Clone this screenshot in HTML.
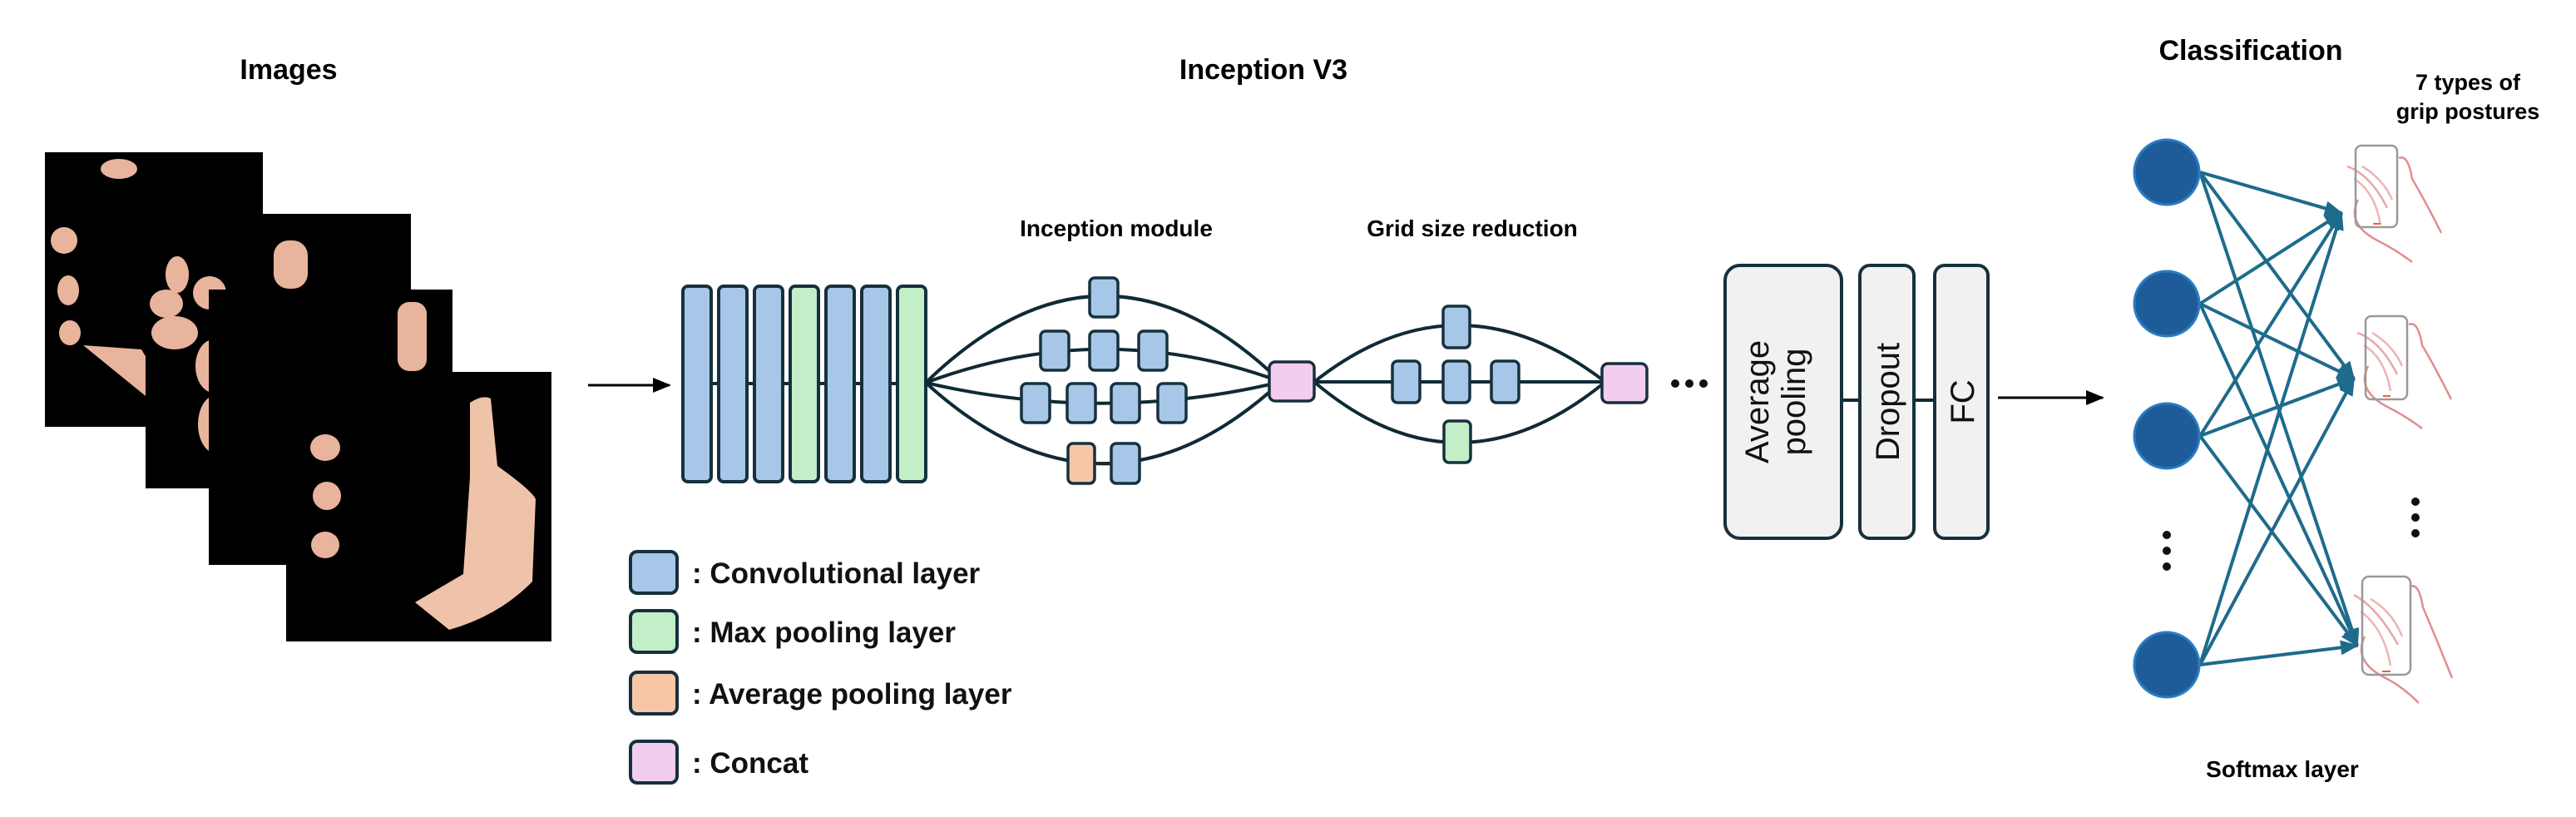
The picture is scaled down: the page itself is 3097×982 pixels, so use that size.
<!DOCTYPE html>
<html><head><meta charset="utf-8"><style>
html,body{margin:0;padding:0;background:#fff;}
svg{display:block;}
text{font-family:"Liberation Sans",sans-serif;}
</style></head><body>
<svg width="3097" height="982" viewBox="0 0 3097 982" xmlns="http://www.w3.org/2000/svg">
<defs>
<marker id="bh" markerWidth="22" markerHeight="18" refX="20" refY="9" orient="auto" markerUnits="userSpaceOnUse">
<path d="M0,0 L22,9 L0,18 z" fill="#000"/></marker>
<marker id="th" markerWidth="22" markerHeight="18" refX="20" refY="9" orient="auto" markerUnits="userSpaceOnUse">
<path d="M0,0 L22,9 L0,18 z" fill="#1e6b8c"/></marker>
</defs>

<text x="347" y="95" font-size="34" font-weight="bold" text-anchor="middle">Images</text>
<text x="1519" y="95" font-size="34" font-weight="bold" text-anchor="middle">Inception V3</text>
<text x="2706" y="72" font-size="34" font-weight="bold" text-anchor="middle">Classification</text>
<text x="2967" y="108" font-size="27" font-weight="bold" text-anchor="middle">7 types of</text>
<text x="2967" y="143" font-size="27" font-weight="bold" text-anchor="middle">grip postures</text>
<text x="1342" y="284" font-size="28" font-weight="bold" text-anchor="middle">Inception module</text>
<text x="1770" y="284" font-size="28" font-weight="bold" text-anchor="middle">Grid size reduction</text>
<text x="2744" y="934" font-size="28" font-weight="bold" text-anchor="middle">Softmax layer</text>

<g fill="#e8b49c">
<rect x="54" y="183" width="262" height="330" fill="#000"/>
<ellipse cx="143" cy="203" rx="22" ry="12"/>
<ellipse cx="77" cy="289" rx="16" ry="16"/>
<ellipse cx="82" cy="349" rx="13" ry="18"/>
<ellipse cx="84" cy="400" rx="13" ry="15"/>
<path d="M100,415 L170,420 L200,470 L180,480 Z"/>
<rect x="175" y="257" width="319" height="330" fill="#000"/>
<rect x="329" y="289" width="41" height="58" rx="18"/>
<ellipse cx="213" cy="330" rx="14" ry="22"/>
<ellipse cx="200" cy="365" rx="20" ry="17"/>
<ellipse cx="210" cy="400" rx="28" ry="20"/>
<ellipse cx="252" cy="352" rx="20" ry="20"/>
<ellipse cx="257" cy="440" rx="22" ry="32"/>
<ellipse cx="260" cy="510" rx="22" ry="35"/>
<ellipse cx="270" cy="565" rx="18" ry="20"/>
<rect x="251" y="348" width="293" height="331" fill="#000"/>
<rect x="478" y="363" width="35" height="83" rx="14"/>
<rect x="344" y="447" width="319" height="324" fill="#000"/>
<ellipse cx="391" cy="538" rx="18" ry="16"/>
<ellipse cx="393" cy="596" rx="17" ry="17"/>
<ellipse cx="391" cy="655" rx="17" ry="16"/>
<path d="M565,484 Q580,474 590,479 L598,560 Q640,590 644,600 L640,699 Q600,740 540,757 L499,724 L557,690 L565,574 Z" fill="#eec3aa"/>
</g>

<line x1="707" y1="463" x2="805" y2="463" stroke="#000" stroke-width="3" marker-end="url(#bh)"/>

<line x1="821" y1="461" x2="1113" y2="461" stroke="#0f2a35" stroke-width="4"/>
<g stroke="#16303d" stroke-width="4">
<rect x="821" y="344" width="34" height="235" rx="6" fill="#a7c7e9"/>
<rect x="864" y="344" width="34" height="235" rx="6" fill="#a7c7e9"/>
<rect x="907" y="344" width="34" height="235" rx="6" fill="#a7c7e9"/>
<rect x="950" y="344" width="34" height="235" rx="6" fill="#c3eec8"/>
<rect x="993" y="344" width="34" height="235" rx="6" fill="#a7c7e9"/>
<rect x="1036" y="344" width="34" height="235" rx="6" fill="#a7c7e9"/>
<rect x="1079" y="344" width="34" height="235" rx="6" fill="#c3eec8"/>
</g>

<g fill="none" stroke="#0f2a35" stroke-width="4">
<path d="M1113,460 Q1327,252 1540,459"/>
<path d="M1113,460 Q1327,380 1540,459"/>
<path d="M1113,460 Q1327,510 1540,459"/>
<path d="M1113,460 Q1327,655 1540,459"/>
<path d="M1580,459 Q1752,323 1930,459"/>
<path d="M1580,459 L1930,459"/>
<path d="M1580,459 Q1752,605 1930,459"/>
</g>
<g stroke="#16303d" stroke-width="3.5">
<rect x="1310" y="334" width="34" height="47" rx="6" fill="#a7c7e9"/>
<rect x="1251" y="398" width="34" height="47" rx="6" fill="#a7c7e9"/>
<rect x="1310" y="398" width="34" height="47" rx="6" fill="#a7c7e9"/>
<rect x="1369" y="398" width="34" height="47" rx="6" fill="#a7c7e9"/>
<rect x="1228" y="461" width="34" height="47" rx="6" fill="#a7c7e9"/>
<rect x="1283" y="461" width="34" height="47" rx="6" fill="#a7c7e9"/>
<rect x="1336" y="461" width="34" height="47" rx="6" fill="#a7c7e9"/>
<rect x="1392" y="461" width="34" height="47" rx="6" fill="#a7c7e9"/>
<rect x="1284" y="533" width="32" height="48" rx="6" fill="#f6c6a6"/>
<rect x="1336" y="533" width="34" height="48" rx="6" fill="#a7c7e9"/>
<rect x="1526" y="435" width="54" height="47" rx="7" fill="#f2cdef"/>
<rect x="1735" y="368" width="32" height="50" rx="6" fill="#a7c7e9"/>
<rect x="1674" y="434" width="33" height="50" rx="6" fill="#a7c7e9"/>
<rect x="1735" y="434" width="32" height="50" rx="6" fill="#a7c7e9"/>
<rect x="1793" y="434" width="33" height="50" rx="6" fill="#a7c7e9"/>
<rect x="1736" y="506" width="32" height="50" rx="6" fill="#c3eec8"/>
<rect x="1926" y="437" width="54" height="47" rx="7" fill="#f2cdef"/>
</g>
<g fill="#111"><circle cx="2014" cy="461" r="5"/><circle cx="2031" cy="461" r="5"/><circle cx="2048" cy="461" r="5"/></g>

<line x1="2214" y1="481" x2="2326" y2="481" stroke="#0f2a35" stroke-width="4"/>
<g stroke="#16303d" stroke-width="4" fill="#f1f1f1">
<rect x="2074" y="319" width="140" height="328" rx="18"/>
<rect x="2236" y="319" width="65" height="328" rx="12"/>
<rect x="2326" y="319" width="64" height="328" rx="12"/>
</g>
<g font-size="40" fill="#111">
<text transform="translate(2134,483) rotate(-90)" text-anchor="middle" y="-8">Average</text>
<text transform="translate(2134,483) rotate(-90)" text-anchor="middle" y="36">pooling</text>
<text transform="translate(2283,483) rotate(-90)" text-anchor="middle">Dropout</text>
<text transform="translate(2373,483) rotate(-90)" text-anchor="middle">FC</text>
</g>
<line x1="2402" y1="478" x2="2528" y2="478" stroke="#000" stroke-width="3" marker-end="url(#bh)"/>

<g stroke="#1e6b8c" stroke-width="4" fill="none">
<line x1="2645" y1="207" x2="2815" y2="256" marker-end="url(#th)"/>
<line x1="2645" y1="207" x2="2830" y2="455" marker-end="url(#th)"/>
<line x1="2645" y1="207" x2="2834" y2="776" marker-end="url(#th)"/>
<line x1="2645" y1="365" x2="2815" y2="256" marker-end="url(#th)"/>
<line x1="2645" y1="365" x2="2830" y2="455" marker-end="url(#th)"/>
<line x1="2645" y1="365" x2="2834" y2="776" marker-end="url(#th)"/>
<line x1="2645" y1="524" x2="2815" y2="256" marker-end="url(#th)"/>
<line x1="2645" y1="524" x2="2830" y2="455" marker-end="url(#th)"/>
<line x1="2645" y1="524" x2="2834" y2="776" marker-end="url(#th)"/>
<line x1="2645" y1="799" x2="2815" y2="256" marker-end="url(#th)"/>
<line x1="2645" y1="799" x2="2830" y2="455" marker-end="url(#th)"/>
<line x1="2645" y1="799" x2="2834" y2="776" marker-end="url(#th)"/>
</g>
<g fill="#1d5c98" stroke="#2a7cc4" stroke-width="3">
<circle cx="2605" cy="207" r="39"/>
<circle cx="2605" cy="365" r="39"/>
<circle cx="2605" cy="524" r="39"/>
<circle cx="2605" cy="799" r="39"/>
</g>
<g fill="#111">
<circle cx="2605" cy="643" r="5"/><circle cx="2605" cy="662" r="5"/><circle cx="2605" cy="681" r="5"/>
<circle cx="2904" cy="603" r="5"/><circle cx="2904" cy="622" r="5"/><circle cx="2904" cy="641" r="5"/>
</g>

<g fill="none" stroke-width="2.5">
<g>
<path d="M2884,190 Q2895,185 2900,215 Q2915,240 2935,280" stroke="#e08e8e"/>
<path d="M2835,240 Q2820,270 2860,290 Q2880,300 2900,315" stroke="#e08e8e"/>
<path d="M2822,200 Q2850,210 2870,250" stroke="#eaa5a5"/>
<path d="M2830,215 Q2855,230 2862,270 M2840,200 Q2865,215 2876,240" stroke="#eeb5b5"/>
<rect x="2832" y="175" width="50" height="98" rx="7" stroke="#999" stroke-width="2.5"/>
<line x1="2853" y1="269" x2="2862" y2="269" stroke="#f06030" stroke-width="2"/>
</g>
<g transform="translate(12,200)">
<path d="M2884,190 Q2895,185 2900,215 Q2915,240 2935,280" stroke="#e08e8e"/>
<path d="M2835,240 Q2820,270 2860,290 Q2880,300 2900,315" stroke="#e08e8e"/>
<path d="M2822,200 Q2850,210 2870,250" stroke="#eaa5a5"/>
<path d="M2830,215 Q2855,230 2862,270 M2840,200 Q2865,215 2876,240" stroke="#eeb5b5"/>
<rect x="2832" y="180" width="50" height="100" rx="7" stroke="#999" stroke-width="2.5"/>
<line x1="2853" y1="276" x2="2862" y2="276" stroke="#f06030" stroke-width="2"/>
</g>
<g transform="translate(8,515)">
<path d="M2890,190 Q2900,185 2905,215 Q2920,250 2940,300" stroke="#e08e8e"/>
<path d="M2835,250 Q2820,280 2860,300 Q2880,310 2900,330" stroke="#e08e8e"/>
<path d="M2822,200 Q2850,215 2875,260" stroke="#eaa5a5"/>
<path d="M2830,220 Q2858,240 2866,285 M2842,205 Q2868,220 2880,250" stroke="#eeb5b5"/>
<rect x="2832" y="178" width="58" height="118" rx="8" stroke="#999" stroke-width="2.5"/>
<line x1="2856" y1="292" x2="2866" y2="292" stroke="#f06030" stroke-width="2"/>
</g>
</g>

<g stroke="#16303d" stroke-width="4">
<rect x="758" y="663" width="56" height="50" rx="8" fill="#a7c7e9"/>
<rect x="758" y="734" width="56" height="50" rx="8" fill="#c3eec8"/>
<rect x="758" y="808" width="56" height="50" rx="8" fill="#f6c6a6"/>
<rect x="758" y="891" width="56" height="50" rx="8" fill="#f2cdef"/>
</g>
<g font-size="35" font-weight="bold" fill="#111">
<text x="832" y="701">: Convolutional  layer</text>
<text x="832" y="772">: Max pooling layer</text>
<text x="832" y="846">: Average pooling layer</text>
<text x="832" y="929">: Concat</text>
</g>
</svg>
</body></html>
